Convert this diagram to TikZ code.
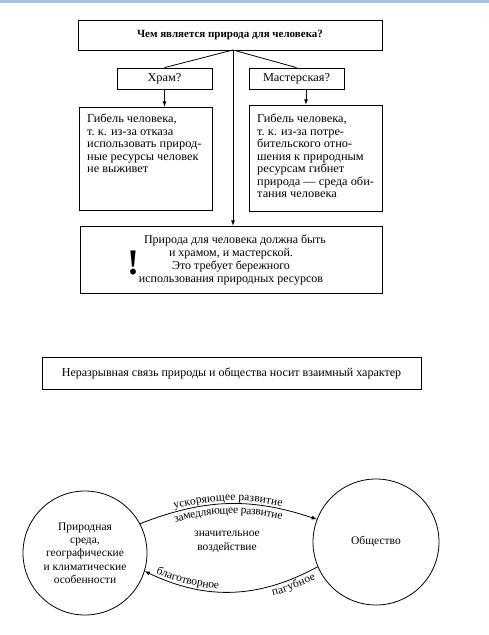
\documentclass[tikz,border=0pt]{standalone}
\usepackage{fontspec}
\setmainfont{Liberation Serif}
\newfontfamily\shir[FakeStretch=1.03]{Liberation Serif}
\usetikzlibrary{arrows}
\usetikzlibrary{decorations.text}
\definecolor{polosa}{RGB}{168,192,226}

\begin{document}
\begin{tikzpicture}[x=1pt,y=-1pt,>=latex,
    box/.style={draw,line width=0.8pt,inner sep=0pt},
    txt/.style={font=\fontsize{12}{12.5}\shir},
    krug/.style={draw,circle,line width=0.8pt,inner sep=0pt,align=center,font=\fontsize{11.5}{13.3}\selectfont}]
            \useasboundingbox (0,0) rectangle (489,635);
            \fill[polosa] (0,0) rectangle (489,3);

            %%%%%%%%%%%%%%%% schema
            \node[box,minimum width=304pt,minimum height=30pt,font=\fontsize{11}{12}\bfseries] (vopros) at (230,35) {Чем является природа для человека?};
            \node[box,txt,minimum width=95pt,minimum height=21pt] (xram) at (164.5,78.5) {Храм?};
            \node[box,txt,minimum width=95pt,minimum height=21pt] (master) at (296.5,78.5) {Мастерская?};
            \node[box,minimum width=133pt,minimum height=103pt] (gibel1) at (145.5,158.5) {};
            \node[box,minimum width=133pt,minimum height=106pt] (gibel2) at (315.5,158) {};
            \node[txt,anchor=north west,align=left,inner sep=0pt] (t1) at (87,114) {Гибель человека,\\т.~к. из-за отказа\\использовать природ-\\ные ресурсы человек\\не выживет};
            \node[txt,anchor=north west,align=left,inner sep=0pt] (t2) at (257,114) {Гибель человека,\\т.~к. из-за потре-\\бительского отно-\\шения к природным\\ресурсам гибнет\\природа~— среда оби-\\тания человека};
            \node[box,align=center,minimum width=302pt,minimum height=67pt,font=\fontsize{12}{13}\selectfont] (itog) at (231,259.5) {\hspace*{8pt}Природа для человека должна быть\\и храмом, и мастерской.\\Это требует бережного\\использования природных ресурсов};
            \node[anchor=base,inner sep=0pt,font=\fontsize{36}{36}\bfseries] (vosk) at (133,274) {!};

            \coordinate (razvilka) at (233,50);
            \draw[line width=0.8pt] (razvilka) -- (xram.north);
            \draw[line width=0.8pt] (razvilka) -- (master.north);
            \draw[line width=0.8pt,->] (razvilka) -- (razvilka |- itog.north);
            \draw[line width=0.8pt,->] (xram.south) -- (xram.south |- gibel1.north);
            \draw[line width=0.8pt,->] ([xshift=9.5pt]master.south) -- ([xshift=9.5pt]master.south |- gibel2.north);

            %%%%%%%%%%%%%%%% svyaz
            \node[box,minimum width=379pt,minimum height=32pt,font=\fontsize{12}{13}\selectfont] (svyaz) at (231.5,373) {Неразрывная связь природы и общества носит взаимный характер};

            \node[krug,minimum size=124pt] (priroda) at (85,553) {Природная\\среда,\\географические\\и климатические\\особенности};
            \node[krug,minimum size=126pt] (obshestvo) at (376,542) {Общество};
            \node[align=center,font=\fontsize{11.5}{13.5}\selectfont] (vozd) at (227,542) {значительное\\воздействие};

            \draw[line width=0.8pt,->] (priroda.28) to[bend left=20] (obshestvo.159);
            \path[decorate,decoration={text along path,text align=center,raise=3pt,
                text={|\fontsize{11.5}{12}\selectfont|ускоряющее развитие}}] (priroda.28) to[bend left=20] (obshestvo.159);
            \path[decorate,decoration={text along path,text align=center,raise=-10pt,
                text={|\fontsize{11.5}{12}\selectfont|замедляющее развитие}}] (priroda.28) to[bend left=20] (obshestvo.159);

            \draw[line width=0.8pt,->] (obshestvo.203) to[bend left=27] (priroda.343);
            \path[decorate,decoration={text along path,text align={left,left indent=11pt},raise=3pt,
                text={|\fontsize{11.5}{12}\selectfont|благотворное}}] (priroda.343) to[bend right=27] (obshestvo.203);
            \path[decorate,decoration={text along path,text align={right,right indent=7pt},raise=-10pt,
                text={|\fontsize{11.5}{12}\selectfont|пагубное}}] (priroda.343) to[bend right=27] (obshestvo.203);
\end{tikzpicture}
\end{document}
